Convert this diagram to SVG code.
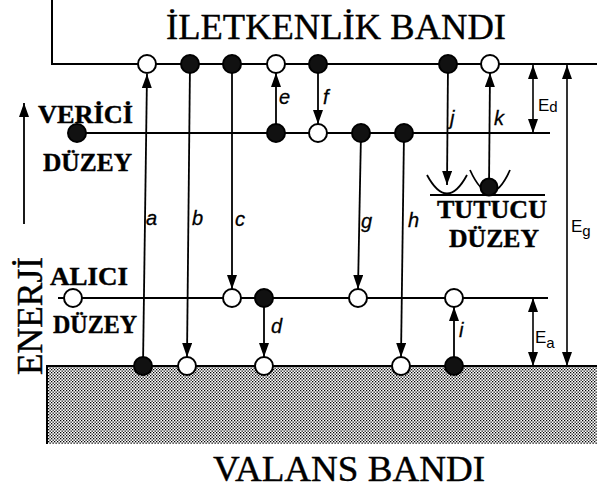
<svg xmlns="http://www.w3.org/2000/svg" width="597" height="490" viewBox="0 0 597 490">
<defs>
<marker id="ah" viewBox="0 0 14 10" refX="14" refY="5" markerWidth="14" markerHeight="10" markerUnits="userSpaceOnUse" orient="auto-start-reverse">
<path d="M0,0 L14,5 L0,10 Z" fill="#000"/>
</marker>
<pattern id="stip" width="3" height="3" patternUnits="userSpaceOnUse">
<rect width="3" height="3" fill="#fff"/>
<rect x="0" y="0" width="1.3" height="1.3" fill="#000"/>
<rect x="1.5" y="1.5" width="1.3" height="1.3" fill="#000"/>
</pattern>
<style>
.band{stroke:#000;stroke-width:2;fill:none}
.lvl{stroke:#000;stroke-width:1.8;fill:none}
.arr{stroke:#000;stroke-width:1.8;fill:none;marker-end:url(#ah)}
.dim{stroke:#000;stroke-width:1.6;fill:none;marker-start:url(#ah);marker-end:url(#ah)}
.op{fill:#fff;stroke:#000;stroke-width:2}
.fl{fill:#111;stroke:#000;stroke-width:2}
.big{font-family:"Liberation Serif","Times New Roman",serif;font-size:36px;fill:#000;stroke:#000;stroke-width:0.4}
.lab{font-family:"Liberation Serif","Times New Roman",serif;font-size:26px;font-weight:bold;fill:#000;stroke:#000;stroke-width:0.4}
.it{font-family:"Liberation Sans",Arial,sans-serif;font-size:20px;font-style:italic;fill:#000;stroke:#000;stroke-width:0.3}
.en{font-family:"Liberation Sans",Arial,sans-serif;font-size:17px;fill:#000}
</style>
</defs>

<g id="valence-band">
<rect x="47" y="366" width="550" height="78" fill="url(#stip)"/>
<path class="band" d="M47,444 V366 H597"/>
<text class="big" x="213" y="481" textLength="272" lengthAdjust="spacingAndGlyphs">VALANS BANDI</text>
</g>

<g id="conduction-band">
<path class="band" d="M52,0 V64 H597"/>
<text class="big" x="166" y="39" textLength="340" lengthAdjust="spacingAndGlyphs">İLETKENLİK BANDI</text>
</g>

<g id="donor-level">
<line class="lvl" x1="77" y1="133" x2="550" y2="133"/>
<text class="lab" x="38" y="123" textLength="95" lengthAdjust="spacingAndGlyphs">VERİCİ</text>
<text class="lab" x="43" y="171" textLength="89" lengthAdjust="spacingAndGlyphs">DÜZEY</text>
</g>

<g id="acceptor-level">
<line class="lvl" x1="58" y1="298" x2="548" y2="298"/>
<text class="lab" x="50" y="285" textLength="78" lengthAdjust="spacingAndGlyphs">ALICI</text>
<text class="lab" x="53" y="333" textLength="84" lengthAdjust="spacingAndGlyphs">DÜZEY</text>
</g>

<g id="trap-level">
<line class="lvl" x1="430" y1="195" x2="545" y2="195"/>
<path class="lvl" d="M427,175 Q447,212 467,175" stroke-width="1.6"/>
<path class="lvl" d="M470,170 Q490,214 510,170" stroke-width="1.6"/>
<text class="lab" x="437" y="218" textLength="110" lengthAdjust="spacingAndGlyphs">TUTUCU</text>
<text class="lab" x="449" y="247" textLength="90" lengthAdjust="spacingAndGlyphs">DÜZEY</text>
</g>

<g id="energy-axis">
<line class="arr" x1="24" y1="224" x2="24" y2="103"/>
<text class="big" transform="translate(42,375) rotate(-90)" font-size="39" textLength="118" lengthAdjust="spacingAndGlyphs">ENERJİ</text>
</g>

<g id="connectors">
<line class="arr" x1="143" y1="366" x2="147" y2="74"/>
<line class="arr" x1="190" y1="64" x2="187" y2="357"/>
<line class="arr" x1="232" y1="64" x2="232" y2="289"/>
<line class="arr" x1="264" y1="298" x2="264" y2="357"/>
<line class="arr" x1="276" y1="133" x2="276" y2="73"/>
<line class="arr" x1="318" y1="64" x2="318" y2="124"/>
<line class="arr" x1="361" y1="133" x2="358" y2="289"/>
<line class="arr" x1="404" y1="133" x2="401" y2="357"/>
<line class="arr" x1="454" y1="366" x2="454" y2="307"/>
<line class="arr" x1="448" y1="64" x2="447" y2="185"/>
<line class="arr" x1="489" y1="187" x2="490" y2="73"/>
<line class="dim" x1="533" y1="65" x2="533" y2="133"/>
<line class="dim" x1="567" y1="65" x2="567" y2="366"/>
<line class="dim" x1="533" y1="298" x2="533" y2="366"/>
</g>

<g id="labels">
<text class="it" x="146" y="225">a</text>
<text class="it" x="192" y="225">b</text>
<text class="it" x="235" y="226">c</text>
<text class="it" x="271" y="333">d</text>
<text class="it" x="279" y="104">e</text>
<text class="it" x="323" y="104">f</text>
<text class="it" x="361" y="228">g</text>
<text class="it" x="408" y="227">h</text>
<text class="it" x="459" y="337">i</text>
<text class="it" x="450" y="125">j</text>
<text class="it" x="494" y="125">k</text>
<text class="en" x="538" y="111">E<tspan font-size="15" dy="1">d</tspan></text>
<text class="en" x="571" y="232">E<tspan font-size="15" dy="4">g</tspan></text>
<text class="en" x="535" y="343">E<tspan font-size="15" dy="5">a</tspan></text>
</g>

<g id="conduction-electrons">
<circle class="op" cx="147" cy="64" r="9"/>
<circle class="fl" cx="190" cy="64" r="9"/>
<circle class="fl" cx="232" cy="64" r="9"/>
<circle class="op" cx="276" cy="64" r="9"/>
<circle class="fl" cx="318" cy="64" r="9"/>
<circle class="fl" cx="448" cy="64" r="9"/>
<circle class="op" cx="490" cy="64" r="9"/>
</g>
<g id="donor-states">
<circle class="fl" cx="77" cy="133" r="9"/>
<circle class="fl" cx="276" cy="133" r="9"/>
<circle class="op" cx="318" cy="133" r="9"/>
<circle class="fl" cx="361" cy="133" r="9"/>
<circle class="fl" cx="404" cy="133" r="9"/>
</g>
<g id="trap-state">
<circle class="fl" cx="489" cy="187" r="8.5"/>
</g>
<g id="acceptor-states">
<circle class="op" cx="73" cy="298" r="9"/>
<circle class="op" cx="232" cy="298" r="9"/>
<circle class="fl" cx="264" cy="298" r="9"/>
<circle class="op" cx="358" cy="298" r="9"/>
<circle class="op" cx="454" cy="298" r="9"/>
</g>
<g id="valence-states">
<circle class="fl" cx="143" cy="366" r="9"/>
<circle class="op" cx="187" cy="366" r="9"/>
<circle class="op" cx="264" cy="366" r="9"/>
<circle class="op" cx="401" cy="366" r="9"/>
<circle class="fl" cx="454" cy="366" r="9"/>
</g>
</svg>
